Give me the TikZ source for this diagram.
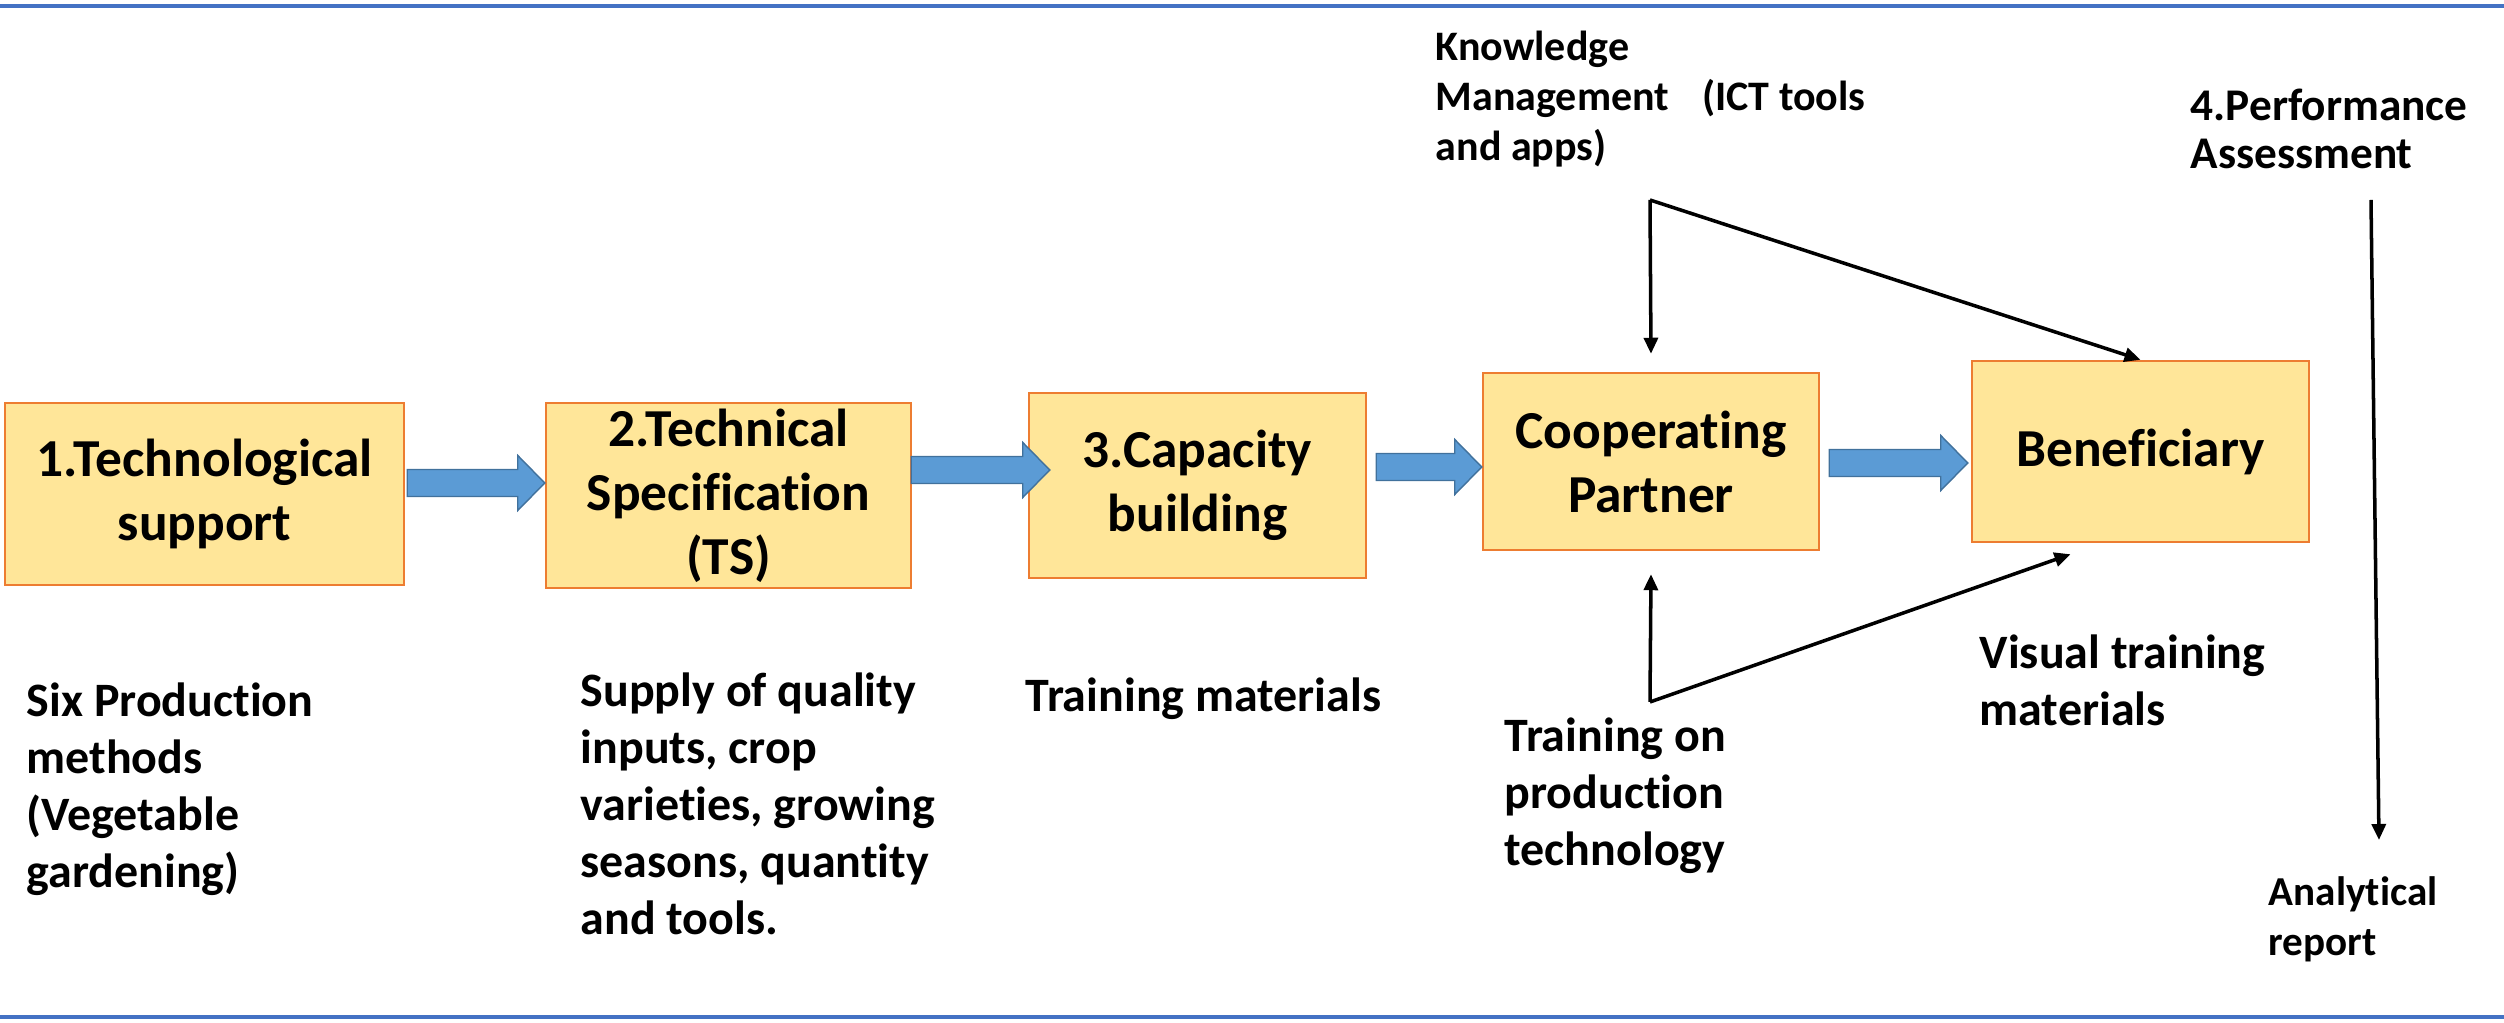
\documentclass[tikz,border=0pt]{standalone}
\usepackage{fontspec}
\setmainfont{Carlito}[Ligatures=NoCommon]
\usepackage{tikz}
\usetikzlibrary{arrows.meta,calc}
\definecolor{boxfill}{HTML}{FFE699}
\definecolor{boxline}{HTML}{ED7D31}
\definecolor{fatfill}{HTML}{5B9BD5}
\definecolor{fatline}{HTML}{41719C}
\definecolor{rulecol}{HTML}{4472C4}

\begin{document}
\begin{tikzpicture}[
        box/.style={draw=boxline, fill=boxfill, line width=0.7pt, inner sep=0pt, align=center,
                font=\fontsize{15.2}{18.2}\selectfont\bfseries},
        note/.style={anchor=north west, inner sep=0pt, align=left,
                font=\fontsize{13.65}{16.2}\selectfont\bfseries},
        link/.style={-{Triangle[length=0.16cm,width=0.14cm]}, line width=1pt},
        fat/.style={fill=fatfill, draw=fatline, line width=0.4pt,
                to path={let \p1=(\tikztostart), \p2=(\tikztotarget) in
                        (\x1,\y1+0.135cm) -- (\x2-0.27cm,\y1+0.135cm) -- (\x2-0.27cm,\y1+0.275cm)
                        -- (\x2,\y1) -- (\x2-0.27cm,\y1-0.275cm) -- (\x2-0.27cm,\y1-0.135cm)
                        -- (\x1,\y1-0.135cm) -- cycle}}]
        \useasboundingbox (0cm,0cm) rectangle (25.04cm,-10.23cm);
        \draw [rulecol, line width=1.15pt] (0cm,-0.06cm) -- (25.04cm,-0.06cm);
        \draw [rulecol, line width=1.15pt] (0cm,-10.17cm) -- (25.04cm,-10.17cm);

        \node (b1) [box, minimum width=3.99cm, minimum height=1.82cm] at (2.045cm, -4.94cm) {1.Technological\\support};
        \node (b2) [box, minimum width=3.65cm, minimum height=1.85cm] at (7.285cm, -4.955cm) {2.Technical\\Specification\\(TS)};
        \node (b3) [box, minimum width=3.37cm, minimum height=1.85cm] at (11.975cm, -4.855cm) {3.Capacity\\building};
        \node (b4) [box, minimum width=3.36cm, minimum height=1.77cm] at (16.51cm, -4.615cm) {Cooperating\\Partner};
        \node (b5) [box, minimum width=3.37cm, minimum height=1.81cm] at (21.405cm, -4.515cm) {Beneficiary};

        \node (n1) [note] at (0.26cm, -6.82cm) {Six Production\\methods\\(Vegetable\\gardening)};
        \node (n2) [note] at (5.80cm, -6.72cm) {Supply of quality\\inputs, crop\\varieties, growing\\seasons, quantity\\and tools.};
        \node (n3) [note] at (10.25cm, -6.77cm) {Training materials};
        \node (n4) [note] at (15.04cm, -7.17cm) {Training on\\production\\technology};
        \node (n5) [note] at (19.79cm, -6.34cm) {Visual training\\materials};
        \node (n6) [note, font=\fontsize{11.7}{14.2}\selectfont\bfseries] at (22.68cm, -8.76cm) {Analytical\\report};
        \node (n7) [note, font=\fontsize{11.95}{14.2}\selectfont\bfseries] at (14.35cm, -0.305cm) {Knowledge\\Management\hspace{0.33cm}(ICT tools\\and apps)};
        \node (n8) [note, font=\fontsize{12.9}{13.7}\selectfont\bfseries] at (21.90cm, -0.88cm) {4.Performance\\Assessment};

        \coordinate (k0) at (16.50cm, -2.00cm);
        \coordinate (t0) at (16.50cm, -7.02cm);
        \coordinate (p0) at (23.71cm, -2.00cm);
        \coordinate (p1) at (23.79cm, -8.40cm);

        \draw ([shift={(0.02cm,0.11cm)}]b1.east) edge [fat] (b2.west);
        \draw ([shift={(-0.01cm,0.255cm)}]b2.east) edge [fat] ([xshift=0.22cm]b3.west);
        \draw ([shift={(0.09cm,0.185cm)}]b3.east) edge [fat] (b4.west);
        \draw ([shift={(0.09cm,-0.015cm)}]b4.east) edge [fat] ([xshift=-0.03cm]b5.west);

        \draw (k0) edge [link] ([yshift=0.18cm]b4.north);
        \draw (k0) edge [link] (b5.north);
        \draw (t0) edge [link] ([yshift=-0.23cm]b4.south);
        \draw (t0) edge [link] ([shift={(-0.70cm,-0.11cm)}]b5.south);
        \draw (p0) edge [link] (p1);
\end{tikzpicture}
\end{document}
